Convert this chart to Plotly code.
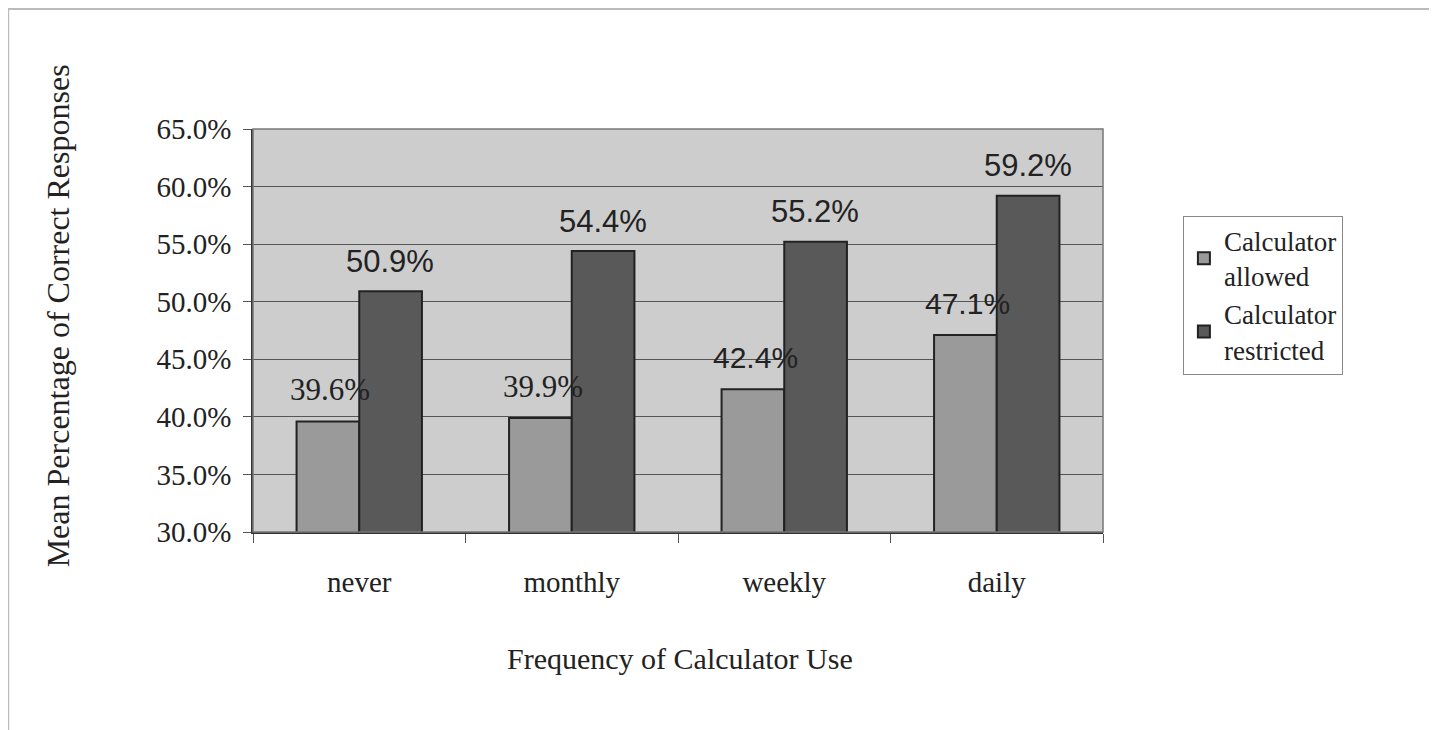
import plotly.graph_objects as go

categories = ["never", "monthly", "weekly", "daily"]
allowed = [0.396, 0.399, 0.424, 0.471]
restricted = [0.509, 0.544, 0.552, 0.592]
allowed_label_fonts = ["Liberation Serif", "Liberation Serif", "Liberation Sans", "Liberation Sans"]
series_names = ["Calculator<br>allowed", "Calculator<br>restricted"]
y_ticks = [0.30, 0.35, 0.40, 0.45, 0.50, 0.55, 0.60, 0.65]

SERIF = "Liberation Serif, Times New Roman, serif"
SANS = "Liberation Sans, Arial, sans-serif"
TXT = "#222222"

fig = go.Figure()
fig.add_trace(go.Bar(
    x=categories, y=allowed, name=series_names[0],
    marker=dict(color="#9a9a9a", line=dict(color="#222222", width=2)),
))
fig.add_trace(go.Bar(
    x=categories, y=restricted, name=series_names[1],
    marker=dict(color="#595959", line=dict(color="#222222", width=2)),
))

annotations = []
for c, v, f in zip(categories, allowed, allowed_label_fonts):
    annotations.append(dict(
        x=c, y=v, xref="x", yref="y", text=f"{v*100:.1f}%", showarrow=False,
        xshift=-29, yshift=32, yanchor="middle", xanchor="center",
        font=dict(family=f, size=31 if "Serif" in f else 30, color=TXT),
    ))
for c, v in zip(categories, restricted):
    annotations.append(dict(
        x=c, y=v, xref="x", yref="y", text=f"{v*100:.1f}%", showarrow=False,
        xshift=31, yshift=30, yanchor="middle", xanchor="center",
        font=dict(family=SANS, size=31, color=TXT),
    ))

annotations.append(dict(
    x=-0.229, y=0.536, xref="paper", yref="paper", xanchor="center", yanchor="middle",
    text="Mean Percentage of Correct Responses", textangle=-90, showarrow=False,
    font=dict(family=SERIF, size=32, color=TXT),
))
annotations.append(dict(
    x=0.502, y=-0.315, xref="paper", yref="paper", xanchor="center", yanchor="middle",
    text="Frequency of Calculator Use", showarrow=False,
    font=dict(family=SERIF, size=30, color=TXT),
))

fig.update_layout(
    width=1437, height=730,
    margin=dict(l=245, r=342, t=121, b=206),
    paper_bgcolor="white",
    plot_bgcolor="#cdcdcd",
    barmode="group",
    bargap=0.41, bargroupgap=0,
    showlegend=True,
    legend=dict(
        x=1.094, y=0.785, xanchor="left", yanchor="top",
        bordercolor="#888888", borderwidth=1, bgcolor="white",
        font=dict(family=SERIF, size=27, color=TXT),
        itemsizing="constant",
    ),
    annotations=annotations,
    shapes=[
        dict(type="rect", xref="paper", yref="paper", x0=0, x1=1, y0=0, y1=1,
             line=dict(color="#777777", width=1.5), layer="above"),
        dict(type="rect", xref="paper", yref="paper", x0=-0.288, x1=1.45, y0=-0.5, y1=1.298,
             line=dict(color="#bbbbbb", width=2), layer="below"),
    ],
)
fig.update_xaxes(
    showline=True, linecolor="#333333", linewidth=1.5,
    ticks="outside", ticklen=9, tickcolor="#555555", tickson="boundaries",
    ticklabelstandoff=23,
    tickfont=dict(family=SERIF, size=29, color=TXT),
    showgrid=False,
)
fig.update_yaxes(
    range=[0.30, 0.65], tickvals=y_ticks, tickformat=".1%",
    showline=True, linecolor="#333333", linewidth=1.5,
    ticks="outside", ticklen=8, tickcolor="#555555",
    ticklabelstandoff=6,
    showgrid=True, gridcolor="#555555", gridwidth=1,
    tickfont=dict(family=SERIF, size=29, color=TXT),
    zeroline=False,
)

fig.write_html("out.html")
